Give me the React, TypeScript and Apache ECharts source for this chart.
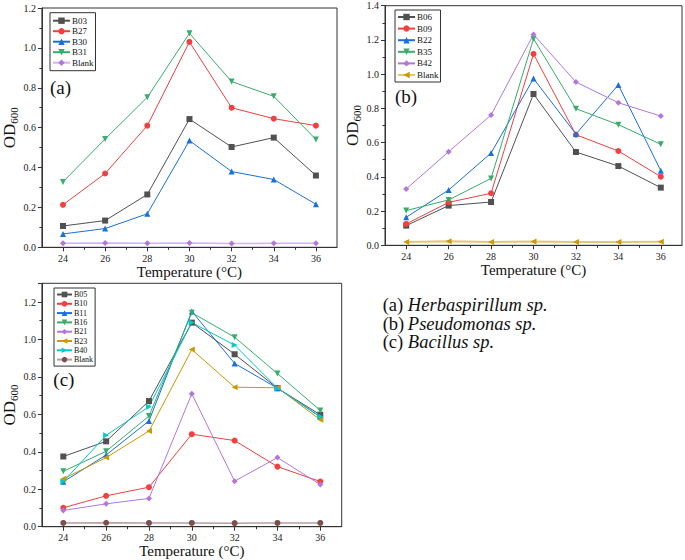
import { useEffect, useRef } from "react";
import * as echarts from "echarts";

const SERIF = '"Liberation Serif", "Times New Roman", serif';

const TEMPS = [24, 26, 28, 30, 32, 34, 36];
const MINOR_TEMPS = [25, 27, 29, 31, 33, 35];
const Y_TICKS = [0, 0.2, 0.4, 0.6, 0.8, 1.0, 1.2];
const Y_TICKS_B = [0, 0.2, 0.4, 0.6, 0.8, 1.0, 1.2, 1.4];

// (a) Herbaspirillum sp.
const B03 = [0.107, 0.134, 0.265, 0.643, 0.503, 0.55, 0.36];
const B27 = [0.213, 0.37, 0.61, 1.03, 0.7, 0.645, 0.61];
const B30 = [0.067, 0.094, 0.168, 0.535, 0.38, 0.34, 0.216];
const B31 = [0.328, 0.543, 0.752, 1.073, 0.831, 0.757, 0.541];
const BLANK_A = [0.02, 0.022, 0.02, 0.021, 0.019, 0.02, 0.02];

// (b) Pseudomonas sp.
const B06 = [0.115, 0.232, 0.253, 0.884, 0.545, 0.463, 0.337];
const B09 = [0.125, 0.251, 0.304, 1.118, 0.646, 0.551, 0.401];
const B22 = [0.164, 0.323, 0.539, 0.974, 0.65, 0.937, 0.436];
const B35 = [0.203, 0.265, 0.391, 1.207, 0.798, 0.705, 0.59];
const B42 = [0.329, 0.547, 0.761, 1.232, 0.954, 0.833, 0.755];
const BLANK_B = [0.02, 0.023, 0.02, 0.022, 0.02, 0.02, 0.021];

// (c) Bacillus sp.
const B05 = [0.375, 0.456, 0.671, 1.09, 0.921, 0.74, 0.598];
const B10 = [0.101, 0.165, 0.211, 0.494, 0.46, 0.321, 0.241];
const B11 = [0.24, 0.383, 0.565, 1.15, 0.872, 0.74, 0.586];
const B16 = [0.296, 0.403, 0.591, 1.143, 1.012, 0.818, 0.621];
const B21 = [0.087, 0.122, 0.151, 0.71, 0.243, 0.369, 0.225];
const B23 = [0.256, 0.369, 0.511, 0.946, 0.745, 0.742, 0.571];
const B40 = [0.241, 0.488, 0.641, 1.09, 0.97, 0.74, 0.588];
const BLANK_C = [0.02, 0.021, 0.02, 0.02, 0.019, 0.02, 0.02];

const CAPTIONS = ["Herbaspirillum sp.", "Pseudomonas sp.", "Bacillus sp."];

const GRAY = "#515151";
const RED = "#F14040";
const BLUE = "#1A6FDF";
const GREEN = "#37AD6B";
const PURPLE = "#B177DE";
const GOLD = "#CC9900";
const CYAN = "#00CBCC";
const BROWN = "#7D4E4E";

type Line = { label: string; values: number[]; color: string; symbol: string; rotate?: number; width?: number };

const PANELS: Array<{
  tag: string;
  grid: { left: number; top: number; width: number; height: number };
  yMax: number;
  yTicks: number[];
  legend: { left: number; top: number; gap: number; itemH: number; itemW: number; font: number; pad: number[] };
  tagPos: [number, number];
  lines: Line[];
}> = [
  {
    tag: "(a)",
    grid: { left: 37.7, top: 8, width: 299.3, height: 239.3 },
    yMax: 1.2,
    yTicks: Y_TICKS,
    legend: { left: 50, top: 12.7, gap: 1.5, itemH: 8, itemW: 17, font: 9, pad: [3.5, 2] },
    tagPos: [50, 87.3],
    lines: [
      { label: "B03", values: B03, color: GRAY, symbol: "rect" },
      { label: "B27", values: B27, color: RED, symbol: "circle" },
      { label: "B30", values: B30, color: BLUE, symbol: "triangle" },
      { label: "B31", values: B31, color: GREEN, symbol: "triangle", rotate: 180 },
      { label: "Blank", values: BLANK_A, color: PURPLE, symbol: "diamond", width: 1.5 },
    ],
  },
  {
    tag: "(b)",
    grid: { left: 385, top: 5.7, width: 297, height: 239.6 },
    yMax: 1.4,
    yTicks: Y_TICKS_B,
    legend: { left: 395, top: 10, gap: 2.6, itemH: 8, itemW: 17, font: 9, pad: [2.5, 2] },
    tagPos: [395, 96.7],
    lines: [
      { label: "B06", values: B06, color: GRAY, symbol: "rect" },
      { label: "B09", values: B09, color: RED, symbol: "circle" },
      { label: "B22", values: B22, color: BLUE, symbol: "triangle" },
      { label: "B35", values: B35, color: GREEN, symbol: "triangle", rotate: 180 },
      { label: "B42", values: B42, color: PURPLE, symbol: "diamond" },
      { label: "Blank", values: BLANK_B, color: GOLD, symbol: "triangle", rotate: 90, width: 2 },
    ],
  },
  {
    tag: "(c)",
    grid: { left: 38.3, top: 283.3, width: 303.4, height: 243.4 },
    yMax: 1.3,
    yTicks: Y_TICKS,
    legend: { left: 54, top: 288, gap: 1.3, itemH: 7, itemW: 15, font: 8, pad: [2.5, 2] },
    tagPos: [53.3, 379.3],
    lines: [
      { label: "B05", values: B05, color: GRAY, symbol: "rect" },
      { label: "B10", values: B10, color: RED, symbol: "circle" },
      { label: "B11", values: B11, color: BLUE, symbol: "triangle" },
      { label: "B16", values: B16, color: GREEN, symbol: "triangle", rotate: 180 },
      { label: "B21", values: B21, color: PURPLE, symbol: "diamond" },
      { label: "B23", values: B23, color: GOLD, symbol: "triangle", rotate: 90 },
      { label: "B40", values: B40, color: CYAN, symbol: "triangle", rotate: -90 },
      { label: "Blank", values: BLANK_C, color: BROWN, symbol: "circle", width: 1.5 },
    ],
  },
];

const AXIS_COLOR = "#333";
const CAPTION_SIZE = 18.5;

export default function App() {
  const elementRef = useRef<HTMLDivElement | null>(null);

  useEffect(() => {
    if (!elementRef.current) return;
    const chart = echarts.init(elementRef.current, undefined, { renderer: "svg" });

    const grids = PANELS.map((p) => ({ ...p.grid, show: true, borderColor: AXIS_COLOR, borderWidth: 1, backgroundColor: "transparent" }));

    const xAxes = PANELS.flatMap((p, i) => [
      {
        type: "value",
        gridIndex: i,
        min: 23,
        max: 37,
        position: "bottom",
        axisLine: { show: true, lineStyle: { color: AXIS_COLOR, width: 1 } },
        axisTick: { show: true, customValues: TEMPS, length: 4, lineStyle: { color: AXIS_COLOR } },
        axisLabel: { customValues: TEMPS, fontSize: 10, fontFamily: SERIF, color: "#222", margin: 6 },
        splitLine: { show: false },
        name: "Temperature (°C)",
        nameLocation: "middle",
        nameGap: 12,
        nameTextStyle: { fontSize: 15, fontFamily: SERIF, color: "#111" },
      },
      {
        type: "value",
        gridIndex: i,
        min: 23,
        max: 37,
        position: "bottom",
        axisLine: { show: false },
        axisTick: { show: true, customValues: MINOR_TEMPS, length: 2.5, lineStyle: { color: AXIS_COLOR } },
        axisLabel: { show: false },
        splitLine: { show: false },
      },
    ]);

    const yAxes = PANELS.map((p, i) => ({
      type: "value",
      gridIndex: i,
      min: 0,
      max: p.yMax,
      interval: 0.2,
      axisLine: { show: true, lineStyle: { color: AXIS_COLOR, width: 1 } },
      axisTick: { show: true, length: 4, lineStyle: { color: AXIS_COLOR } },
      minorTick: { show: true, splitNumber: 2, length: 2.5, lineStyle: { color: AXIS_COLOR } },
      axisLabel: {
        customValues: p.yTicks,
        formatter: (v: number) => v.toFixed(1),
        fontSize: 10,
        fontFamily: SERIF,
        color: "#222",
        margin: 6,
      },
      splitLine: { show: false },
      name: "{a|OD}{b|600}",
      nameLocation: "middle",
      nameGap: 22,
      nameTextStyle: {
        rich: {
          a: { fontSize: 17, fontFamily: SERIF, color: "#111", lineHeight: 20 },
          b: { fontSize: 11, fontFamily: SERIF, color: "#111", lineHeight: 12, verticalAlign: "bottom" },
        },
      },
    }));

    const series = PANELS.flatMap((p, i) =>
      p.lines.map((l) => ({
        name: `${l.label}#${i}`,
        type: "line",
        xAxisIndex: i * 2,
        yAxisIndex: i,
        data: TEMPS.map((t, k) => [t, l.values[k]]),
        symbol: l.symbol,
        symbolSize: 6,
        symbolRotate: l.rotate ?? 0,
        lineStyle: { color: l.color, width: l.width ?? 1, opacity: l.width ? 0.55 : 1 },
        itemStyle: { color: l.color },
      }))
    );

    const legends = PANELS.map((p, i) => ({
      orient: "vertical",
      left: p.legend.left,
      top: p.legend.top,
      padding: p.legend.pad,
      itemGap: p.legend.gap,
      itemWidth: p.legend.itemW,
      itemHeight: p.legend.itemH,
      borderColor: AXIS_COLOR,
      borderWidth: 1,
      selectedMode: false,
      formatter: (name: string) => name.split("#")[0],
      textStyle: { fontFamily: SERIF, fontSize: p.legend.font, color: "#111", padding: [0, 0, 0, -3] },
      data: p.lines.map((l) => `${l.label}#${i}`),
    }));

    const captionX = 382.7;
    const prefixWidth = echarts.format.getTextRect
      ? (echarts.format as any).getTextRect("(a) ", `${CAPTION_SIZE}px ${SERIF}`).width
      : 25;
    const graphics = [
      ...PANELS.map((p) => ({
        type: "text",
        x: p.tagPos[0],
        y: p.tagPos[1],
        style: { text: p.tag, fontSize: 19, fontFamily: SERIF, fill: "#111", verticalAlign: "middle" },
      })),
      ...CAPTIONS.flatMap((c, i) => [
        {
          type: "text",
          x: captionX,
          y: 305 + i * 18.5,
          style: { text: PANELS[i].tag, fontSize: CAPTION_SIZE, fontFamily: SERIF, fill: "#111", verticalAlign: "middle" },
        },
        {
          type: "text",
          x: captionX + prefixWidth,
          y: 305 + i * 18.5,
          style: { text: c, fontSize: CAPTION_SIZE, fontFamily: SERIF, fontStyle: "italic", fill: "#111", verticalAlign: "middle" },
        },
      ]),
    ];

    chart.setOption({
      animation: false,
      backgroundColor: "#fff",
      grid: grids,
      xAxis: xAxes,
      yAxis: yAxes,
      legend: legends,
      series,
      graphic: graphics,
    });
    return () => {
      chart.dispose();
    };
  }, []);

  return <div ref={elementRef} style={{ position: "absolute", left: 0, top: 0, width: 685, height: 560 }} />;
}
